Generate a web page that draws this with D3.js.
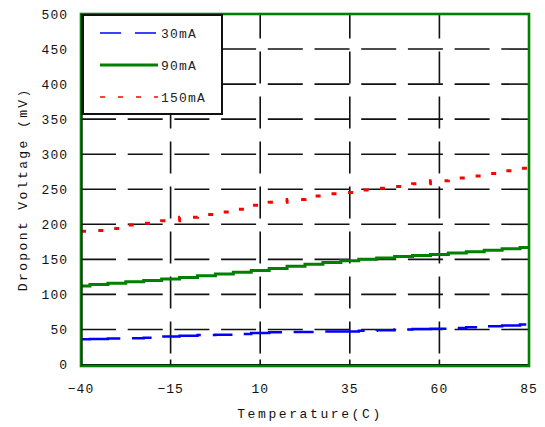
<!DOCTYPE html>
<html><head><meta charset="utf-8">
<script src="https://cdn.jsdelivr.net/npm/d3@7"></script>
<style>body{margin:0;background:#fff}svg{display:block}</style>
</head><body><svg id="c" width="545" height="427"></svg>
<script>
const temps = [-40,-35,-30,-25,-20,-15,-10,-5,0,5,10,15,20,25,30,35,40,45,50,55,60,65,70,75,80,85];
const i30  = [36,36.5,37,37.5,38,40,41,42,42.5,43.5,45,46,46.5,46.5,47,47,48,49,50,50.5,51,52,53,54.5,55.5,57];
const i90  = [112,114,116,118,120,122,124,126.5,129,131.5,134,137,140,143,145.5,148,150,152,154,155.5,157,159,161,163,165,167];
const i150 = [190,191,194,199,201.5,205,210,214,217.5,221.5,227,231.5,235.5,240.5,243.5,245.5,249,251.5,254,258,262,266,269,272.5,276.5,280];
const xTicks = [-40,-15,10,35,60,85];
const yTicks = [0,50,100,150,200,250,300,350,400,450,500];
const seriesNames = ["30mA","90mA","150mA"];
const xTitle = "Temperature(C)";
const yTitle = "Dropont Voltage (mV)";

const svg = d3.select("#c");
const L = 81, R = 529, T = 14, B = 364.5;
const x = d3.scaleLinear().domain([-40,85]).range([L,R]);
const y = d3.scaleLinear().domain([0,500]).range([B,T]);
const font = "'Liberation Mono', 'DejaVu Sans Mono', monospace";

// horizontal dashed grid
svg.append("g").selectAll("line").data(yTicks.filter(v=>v>0 && v<500)).join("line")
  .attr("x1",L).attr("x2",R).attr("y1",d=>y(d)).attr("y2",d=>y(d))
  .attr("stroke","#111").attr("stroke-width",1.6).attr("stroke-dasharray","35,11.7");
// vertical dashed grid (drawn from bottom upwards)
svg.append("g").selectAll("line").data(xTicks.filter(v=>v>-40 && v<85)).join("line")
  .attr("x1",d=>x(d)).attr("x2",d=>x(d)).attr("y1",B-11).attr("y2",T)
  .attr("stroke","#111").attr("stroke-width",1.6).attr("stroke-dasharray","32,13");
// bottom tick marks
svg.append("g").selectAll("line").data(xTicks.filter(v=>v>-40 && v<85)).join("line")
  .attr("x1",d=>x(d)).attr("x2",d=>x(d)).attr("y1",B).attr("y2",B-5)
  .attr("stroke","#111").attr("stroke-width",1.6);

// series
const mk = arr => temps.map((t,i)=>[t,arr[i]]);
const line = d3.line().x(d=>x(d[0])).y(d=>y(d[1])).curve(d3.curveStep);
svg.append("path").datum(mk(i150)).attr("d",line).attr("fill","none")
  .attr("stroke","#ff0000").attr("stroke-width",3).attr("stroke-dasharray","5,13");
svg.append("path").datum(mk(i90)).attr("d",line).attr("fill","none")
  .attr("stroke","#008000").attr("stroke-width",3);
svg.append("path").datum(mk(i30)).attr("d",line).attr("fill","none")
  .attr("stroke","#0000ff").attr("stroke-width",2.5).attr("stroke-dasharray","40,12,20,12");

// frame
svg.append("line").attr("x1",L).attr("x2",R).attr("y1",B+0.5).attr("y2",B+0.5)
  .attr("stroke","#111").attr("stroke-width",2);
svg.append("rect").attr("x",L).attr("y",T).attr("width",R-L).attr("height",B-T+1.5)
  .attr("fill","none").attr("stroke","#008000").attr("stroke-width",2.6);
svg.append("line").attr("x1",L+1).attr("x2",L+1).attr("y1",T).attr("y2",B+1)
  .attr("stroke","#111").attr("stroke-width",1.2);

// legend
const lg = svg.append("g");
lg.append("rect").attr("x",L+1).attr("y",T+1).attr("width",140).attr("height",99)
  .attr("fill","#fff").attr("stroke","#111").attr("stroke-width",2);
lg.append("line").attr("x1",L+1.5).attr("x2",L+1.5).attr("y1",T).attr("y2",T+100)
  .attr("stroke","#111").attr("stroke-width",3);
const legY = [33,65,97];
const legStyle = [
  {c:"#0000ff",w:1.6,da:"21,14"},
  {c:"#008000",w:3,da:null},
  {c:"#ff0000",w:1.6,da:"5,13"}
];
seriesNames.forEach((n,i)=>{
  const s = legStyle[i];
  const l = lg.append("line").attr("x1",100).attr("x2",158).attr("y1",legY[i]).attr("y2",legY[i])
    .attr("stroke",s.c).attr("stroke-width",s.w);
  if (s.da) l.attr("stroke-dasharray",s.da);
  lg.append("text").attr("x",161).attr("y",legY[i]).attr("dy","0.35em")
    .attr("font-family",font).attr("font-size",13).attr("letter-spacing",1.2)
    .attr("fill","#222").text(n);
});

// tick labels
svg.append("g").selectAll("text").data(yTicks).join("text")
  .attr("x",68).attr("y",d=>y(d)).attr("dy","0.35em").attr("text-anchor","end")
  .attr("font-family",font).attr("font-size",13).attr("letter-spacing",1).attr("fill","#111")
  .text(d=>d);
svg.append("g").selectAll("text").data(xTicks).join("text")
  .attr("x",d=>x(d)).attr("y",388).attr("dy","0.35em").attr("text-anchor","middle")
  .attr("font-family",font).attr("font-size",13).attr("letter-spacing",1).attr("fill","#111")
  .text(d=>d<0? "\u2212"+Math.abs(d) : d);

// axis titles
svg.append("text").attr("x",(L+R)/2+5).attr("y",413).attr("dy","0.35em").attr("text-anchor","middle")
  .attr("font-family",font).attr("font-size",13).attr("letter-spacing",2.6).attr("fill","#111")
  .text(xTitle);
svg.append("text").attr("transform",`translate(22,${(T+B)/2}) rotate(-90)`)
  .attr("dy","0.35em").attr("text-anchor","middle")
  .attr("font-family",font).attr("font-size",13).attr("letter-spacing",2.4).attr("fill","#111")
  .text(yTitle);
</script></body></html>
